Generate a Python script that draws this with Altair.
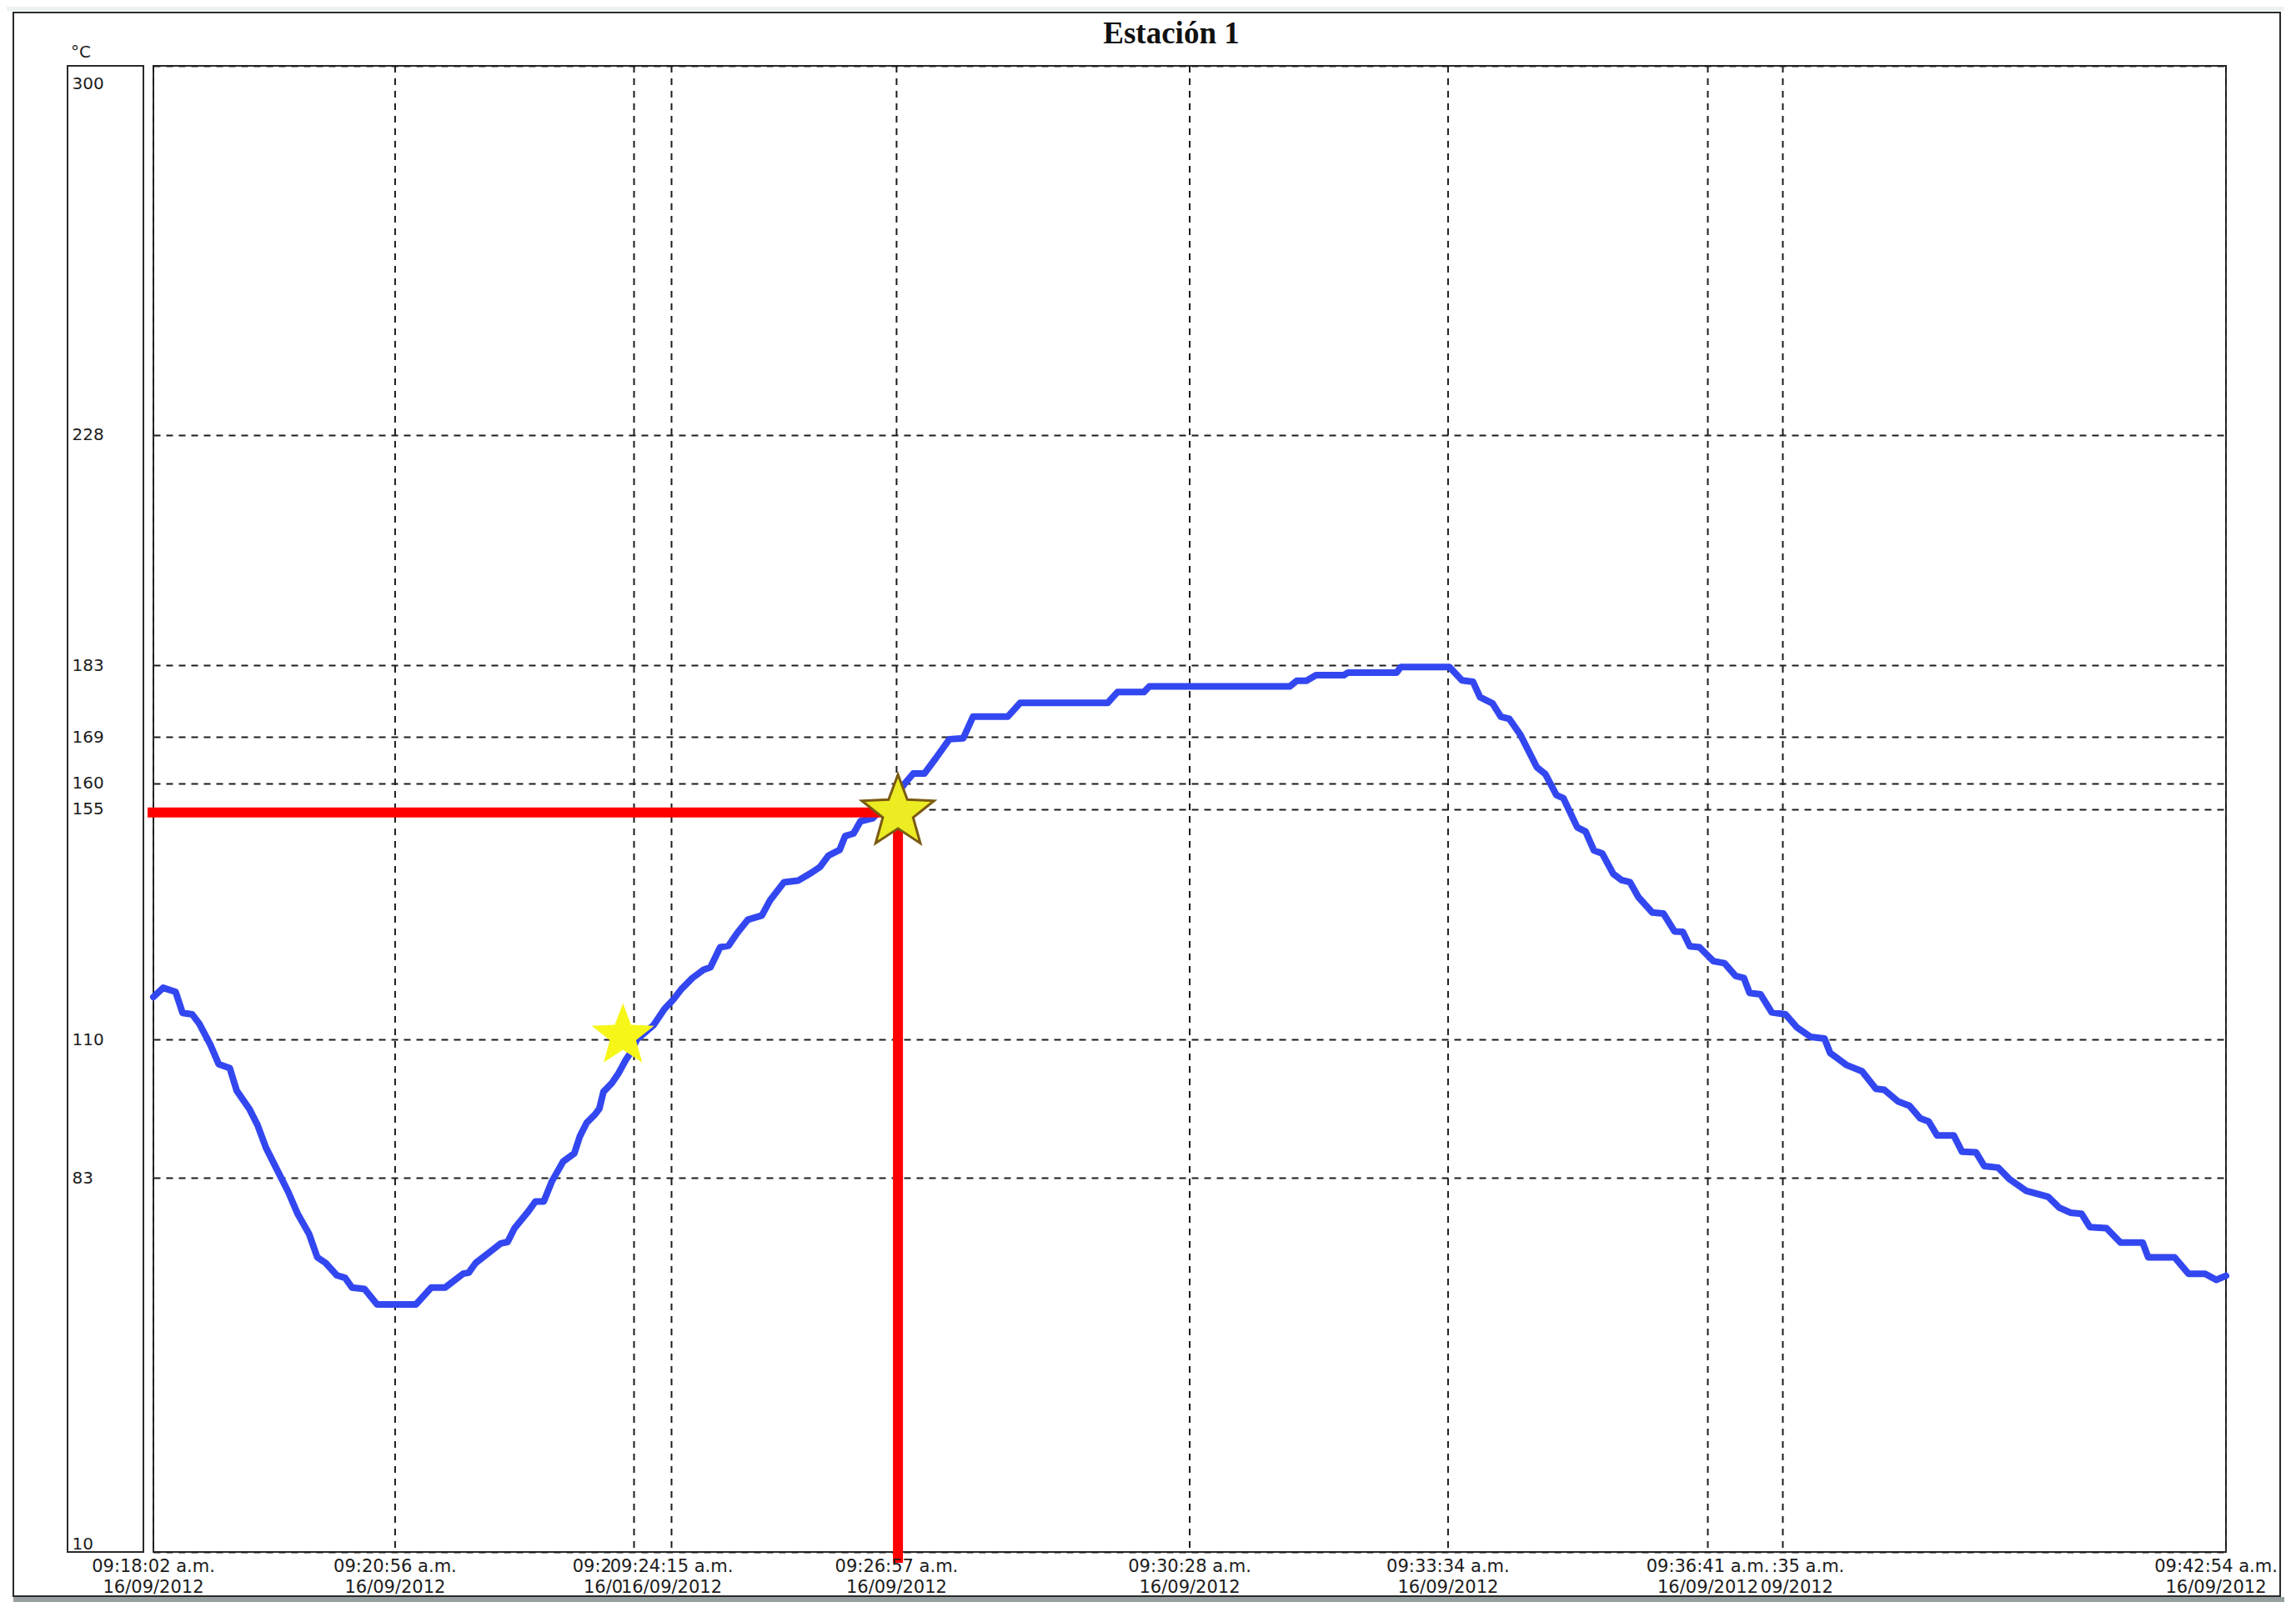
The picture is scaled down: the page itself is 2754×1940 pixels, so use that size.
import math
import altair as alt
import pandas as pd

# ---------------- data ----------------
title_text = "Estación 1"
unit_text = "°C"
start_clock = "09:18:02"

elapsed_s = [0, 7, 16, 21, 28, 33, 41, 47, 55, 60, 69, 75, 81, 89, 97, 104, 112, 118, 124, 132,
             138, 143, 152, 161, 189, 200, 210, 223, 227, 232, 241, 250, 255, 260, 270, 275, 281,
             287, 295, 303, 307, 312, 318, 321, 324, 330, 335, 340, 344, 348, 360, 368, 374, 380,
             388, 396, 401, 408, 414, 420, 428, 438, 444, 454, 464, 474, 480, 486, 494, 498, 504,
             509, 518, 526, 532, 538, 541, 547, 555, 563, 573, 583, 590, 615, 624, 687, 694, 713,
             717, 818, 823, 830, 837, 857, 860, 895, 898, 933, 942, 950, 955, 964, 970, 976, 984,
             996, 1002, 1010, 1015, 1025, 1031, 1037, 1043, 1051, 1057, 1063, 1069, 1079, 1087,
             1095, 1101, 1106, 1113, 1123, 1131, 1139, 1145, 1149, 1157, 1165, 1175, 1183, 1193,
             1203, 1207, 1219, 1230, 1240, 1246, 1256, 1264, 1272, 1278, 1284, 1296, 1302, 1312,
             1318, 1328, 1336, 1348, 1364, 1372, 1380, 1388, 1394, 1406, 1416, 1432, 1436, 1455,
             1465, 1477, 1485, 1492]
temp_c = [118.3, 120.1, 119.3, 115.2, 114.9, 113.1, 109.0, 105.2, 104.4, 100.0, 96.5, 93.3, 88.9,
          84.6, 80.3, 75.9, 72.1, 67.5, 66.4, 64.0, 63.5, 61.6, 61.3, 58.3, 58.3, 61.6, 61.6, 64.3,
          64.5, 66.4, 68.3, 70.2, 70.5, 73.2, 76.5, 78.4, 78.4, 82.4, 86.2, 87.8, 91.1, 93.8, 95.4,
          96.5, 99.8, 101.5, 103.5, 106.0, 107.6, 110.0, 112.8, 116.0, 117.7, 119.8, 122.0, 123.6,
          124.1, 128.0, 128.3, 130.7, 133.4, 134.2, 137.2, 140.7, 141.0, 142.6, 143.7, 145.9, 147.0,
          149.7, 150.2, 152.6, 153.2, 155.6, 156.3, 158.9, 160.0, 161.9, 161.9, 164.8, 168.6, 168.8,
          173.0, 173.0, 175.7, 175.7, 177.8, 177.8, 178.9, 178.9, 180.0, 180.0, 181.1, 181.1, 181.6,
          181.6, 182.7, 182.7, 180.1, 179.8, 176.8, 175.6, 173.0, 172.6, 169.5, 163.1, 161.8, 157.7,
          157.1, 151.4, 150.6, 146.9, 146.3, 142.3, 141.1, 140.7, 137.8, 134.8, 134.6, 131.1, 131.0,
          128.2, 128.0, 125.3, 124.9, 122.4, 122.0, 119.1, 118.8, 115.3, 114.9, 112.4, 110.5, 110.2,
          107.4, 105.0, 103.8, 100.4, 100.2, 97.9, 97.1, 94.6, 94.0, 91.3, 91.3, 88.1, 88.0, 85.3,
          85.0, 82.8, 80.5, 79.3, 77.2, 76.2, 76.0, 73.4, 73.2, 70.4, 70.4, 67.5, 67.5, 64.3, 64.3,
          63.1, 63.9]

tick_clock = ["09:18:02", "09:20:56", "09:23:48", "09:24:15", "09:26:57",
              "09:30:28", "09:33:34", "09:36:41", "09:37:35", "09:42:54"]
tick_date = ["16/09/2012", "16/09/2012", "16/09/2012", "16/09/2012", "16/09/2012",
             "16/09/2012", "16/09/2012", "16/09/2012", "16/09/2012", "16/09/2012"]
y_ticks = [300, 228, 183, 169, 160, 155, 110, 83, 10]

marker_t = [338, 536]
marker_temp = [110.7, 154.3]


# ---------------- build ----------------
def to_seconds(clock):
    h, m, s = (int(p) for p in clock.split(":"))
    return h * 3600 + m * 60 + s


t0 = to_seconds(start_clock)
tick_t = [to_seconds(c) - t0 for c in tick_clock]
t_end = tick_t[-1]
y_min, y_max = min(y_ticks), max(y_ticks)

series = pd.DataFrame({"t": elapsed_s, "T": temp_c})
labels = pd.DataFrame({
    "t": tick_t,
    "clock": [c + " a.m." for c in tick_clock],
    "date": tick_date,
})
markers = pd.DataFrame({"t": marker_t, "T": marker_temp})
reading = pd.DataFrame({"t_left": [0], "t": [marker_t[1]], "T": [marker_temp[1]], "T_bottom": [y_min]})
one = pd.DataFrame({"k": [0]})

W, H = 2486, 1783
PX_PER_S = W / t_end
FONT = "DejaVu Sans"
FS = 21
INK = "#1c1c1c"
# approximate DejaVu Sans advance widths (em) for the label glyphs
ADV = {d: 0.636 for d in "0123456789"}
ADV.update({":": 0.337, "/": 0.337, " ": 0.318, ".": 0.318, "a": 0.613, "m": 0.974})


def text_w(s):
    return sum(ADV.get(ch, 0.6) for ch in s) * FS


def star_path(inner=0.42):
    pts = []
    for i in range(10):
        r = 1.0 if i % 2 == 0 else inner
        a = -math.pi / 2 + i * math.pi / 5
        pts.append((r * math.cos(a), r * math.sin(a)))
    return "M" + " L".join(f"{x:.4f},{y:.4f}" for x, y in pts) + " Z"


STAR = star_path()

xscale = alt.Scale(domain=[0, t_end], nice=False, zero=False)
yscale = alt.Scale(domain=[y_min, y_max], nice=False, zero=False)
yaxis = alt.Axis(values=y_ticks, grid=True, gridDash=[8, 7], gridColor=INK, gridWidth=2,
                 ticks=False, tickSize=0, domain=False, title=None,
                 labelAlign="left", labelPadding=98, labelFlush=True,
                 labelOffset={"condition": {"test": "datum.value == 300", "value": 11}, "value": 0},
                 labelFont=FONT, labelFontSize=20, labelColor=INK, labelOverlap=False)


def X(f):
    return alt.X(f, type="quantitative", scale=xscale, axis=None)


def Y(f):
    return alt.Y(f, type="quantitative", scale=yscale, axis=yaxis)


# decorations (window frame, shadow, label box)
shadow1 = alt.Chart(one).mark_rect(color="#97a0a0").encode(
    x=alt.value(-168), x2=alt.value(2580), y=alt.value(1837), y2=alt.value(1847))
shadow2 = alt.Chart(one).mark_rect(color="#c9cfcf").encode(
    x=alt.value(-168), x2=alt.value(2580), y=alt.value(1847), y2=alt.value(1860))
topband = alt.Chart(one).mark_rect(color="#eef1f1").encode(
    x=alt.value(-190), x2=alt.value(2580), y=alt.value(-90), y2=alt.value(-66))
frame = alt.Chart(one).mark_rect(fillOpacity=0, stroke="#2a2a2a", strokeWidth=2).encode(
    x=alt.value(-168), x2=alt.value(2551), y=alt.value(-64), y2=alt.value(1836))
ybox = alt.Chart(one).mark_rect(fillOpacity=0, stroke="#2a2a2a", strokeWidth=2).encode(
    x=alt.value(-103), x2=alt.value(-12), y=alt.value(0), y2=alt.value(H))

title = alt.Chart(one).mark_text(font="Liberation Serif", fontSize=37, fontWeight="bold",
                                 align="center", baseline="alphabetic", color="#111111").encode(
    x=alt.value(1221), y=alt.value(-27), text=alt.value(title_text))
unit = alt.Chart(one).mark_text(font=FONT, fontSize=20, align="left", baseline="middle",
                                color=INK).encode(
    x=alt.value(-99), y=alt.value(-16), text=alt.value(unit_text))

vgrid = alt.Chart(labels).mark_rule(color=INK, strokeWidth=2, strokeDash=[8, 7]).encode(
    x=X("t"), y=alt.value(0), y2=alt.value(H))

line = alt.Chart(series).mark_line(color="#3347f0", strokeWidth=8, strokeJoin="round",
                                   strokeCap="round").encode(x=X("t"), y=Y("T"))

red_h = alt.Chart(reading).mark_rule(color="#ff0000", strokeWidth=12, xOffset=-7).encode(
    x=X("t_left"), x2=alt.X2("t"), y=Y("T"))
red_v = alt.Chart(reading).mark_rule(color="#ff0000", strokeWidth=12, y2Offset=13).encode(
    x=X("t"), y=Y("T"), y2=alt.Y2("T_bottom"))

star1 = alt.Chart(markers.iloc[[0]]).mark_point(shape=STAR, filled=True, size=6200,
                                                 fill="#f6f619", opacity=1,
                                                 strokeWidth=0).encode(x=X("t"), y=Y("T"))
star2 = alt.Chart(markers.iloc[[1]]).mark_point(shape=STAR, filled=True, size=8300,
                                                 fill="#ecec22", stroke="#7a5a12",
                                                 strokeWidth=3, opacity=1).encode(x=X("t"), y=Y("T"))

Y_CLOCK, Y_DATE = 1801, 1826


def label_pair(df, dx=0):
    out = []
    for field, yv in (("clock", Y_CLOCK), ("date", Y_DATE)):
        out.append(alt.Chart(df).mark_text(font=FONT, fontSize=FS, align="center",
                                           baseline="middle", color=INK, dx=dx).encode(
            x=X("t"), y=alt.value(yv), text=f"{field}:N"))
    return out


# labels partly hidden behind a neighbouring label (as in the original software's output)
def hidden_label(i, neighbour, field, yv):
    row = labels.iloc[[i]]
    s = row[field].iloc[0]
    w = text_w(s)
    gap = abs(tick_t[neighbour] - tick_t[i]) * PX_PER_S
    if tick_t[neighbour] > tick_t[i]:
        mk = alt.Chart(row).mark_text(font=FONT, fontSize=FS, align="left", baseline="middle",
                                      color=INK, dx=-w / 2, limit=gap + 8, ellipsis="\u200b")
    else:
        mk = alt.Chart(row).mark_text(font=FONT, fontSize=FS, align="right", baseline="middle",
                                      color=INK, dx=w / 2, limit=gap, ellipsis="\u200b", dir="rtl")
    return mk.encode(x=X("t"), y=alt.value(yv), text=f"{field}:N")


partial = []
for i, nb in ((2, 3), (8, 7)):
    for field, yv in (("clock", Y_CLOCK), ("date", Y_DATE)):
        partial.append(hidden_label(i, nb, field, yv))

last = len(tick_t) - 1
shown_df = labels[~labels.index.isin([2, 8, last])]
last_df = labels.iloc[[last]]

chart = alt.layer(
    topband, shadow1, shadow2, frame, ybox, title, unit, vgrid,
    line, red_h, red_v, star1, star2,
    *partial, *label_pair(shown_df), *label_pair(last_df, dx=-12),
).properties(
    width=W, height=H,
    autosize=alt.AutoSizeParams(type="none"),
    padding={"left": 176, "top": 71, "right": 70, "bottom": 60},
    background="#ffffff",
).configure_view(stroke="#2a2a2a", strokeWidth=2)

chart.save("out.html", embed_options={"renderer": "svg", "actions": False})
